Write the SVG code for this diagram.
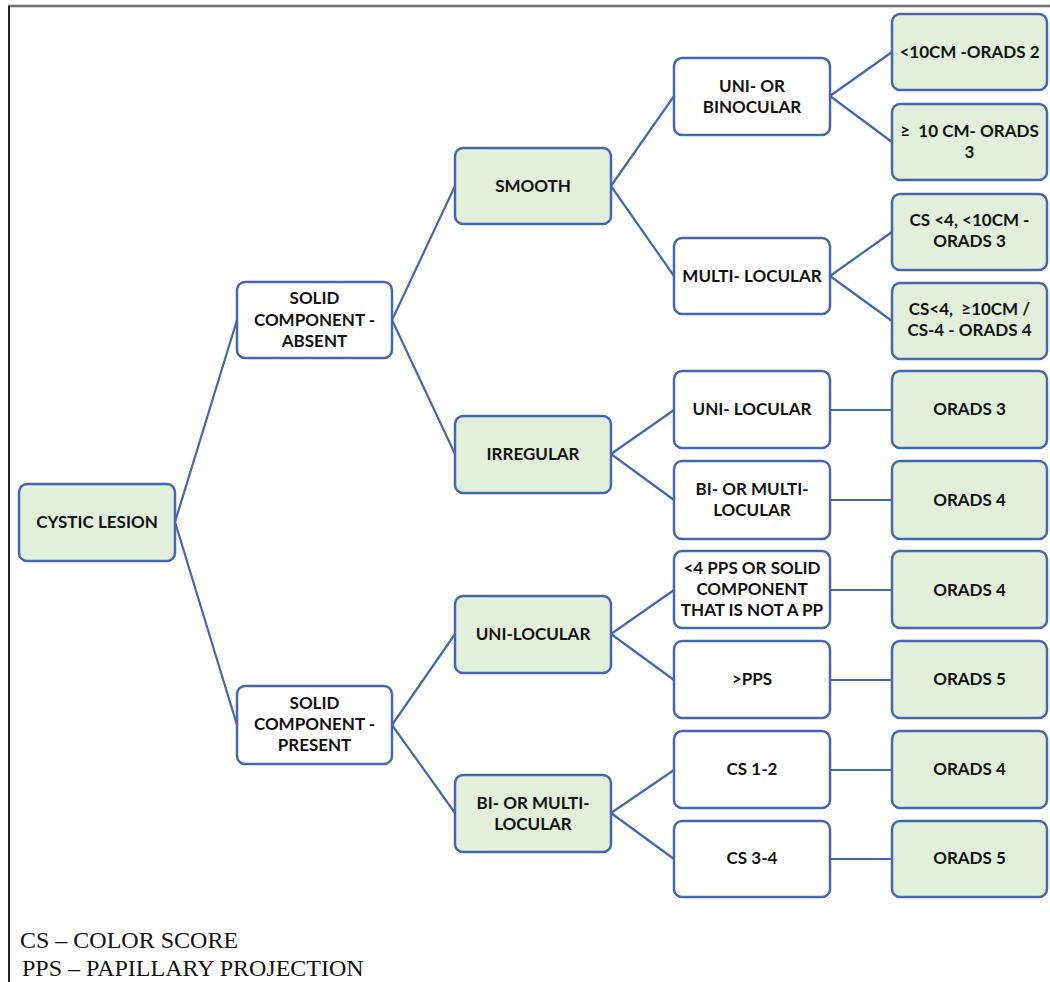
<svg xmlns="http://www.w3.org/2000/svg" width="1050" height="982" viewBox="0 0 1050 982">
<style>
.b{stroke:#4467ad;stroke-width:2.5;}
.g{fill:#e2efda;}
.w{fill:#ffffff;}
.t{font-family:Lato,"Open Sans",sans-serif;font-weight:bold;font-size:17px;fill:#111;text-anchor:middle;}
.c{stroke:#4467ad;stroke-width:2.2;fill:none;}
.l{font-family:"Liberation Serif",serif;font-size:24px;fill:#111;}
</style>
<rect width="1050" height="982" fill="#fff"/>
<line x1="8" y1="6" x2="1050" y2="6" stroke="#6d6d6d" stroke-width="2.5"/>
<line x1="9" y1="6" x2="9" y2="982" stroke="#222" stroke-width="2"/>
<g id="connectors">
<path class="c" d="M175 522L237 320M175 522L237 725"/>
<path class="c" d="M392 320L455 186M392 320L455 454M392 725L455 634M392 725L455 813"/>
<path class="c" d="M611 186L674 96M611 186L674 276M611 454L674 410M611 454L674 500M611 634L674 590M611 634L674 680M611 813L674 770M611 813L674 859"/>
<path class="c" d="M830 96L892 52M830 96L892 142M830 276L892 232M830 276L892 321"/>
<path class="c" d="M830 410H892M830 500H892M830 590H892M830 680H892M830 770H892M830 859H892"/>
</g>
<g id="n-cystic"><rect class="b g" x="19" y="484" width="156" height="77" rx="8"/><text class="t" x="97" y="528">CYSTIC LESION</text></g>
<g id="n-absent"><rect class="b w" x="237" y="282" width="155" height="76" rx="8"/><text class="t" x="314.5" y="304">SOLID</text><text class="t" x="314.5" y="326">COMPONENT -</text><text class="t" x="314.5" y="347">ABSENT</text></g>
<g id="n-present"><rect class="b w" x="237" y="686" width="155" height="78" rx="8"/><text class="t" x="314.5" y="709">SOLID</text><text class="t" x="314.5" y="730">COMPONENT -</text><text class="t" x="314.5" y="751">PRESENT</text></g>
<g id="n-smooth"><rect class="b g" x="455" y="148" width="156" height="76" rx="8"/><text class="t" x="533" y="192">SMOOTH</text></g>
<g id="n-irregular"><rect class="b g" x="455" y="416" width="156" height="77" rx="8"/><text class="t" x="533" y="460">IRREGULAR</text></g>
<g id="n-unilocular"><rect class="b g" x="455" y="596" width="156" height="77" rx="8"/><text class="t" x="533" y="640">UNI-LOCULAR</text></g>
<g id="n-bimulti"><rect class="b g" x="455" y="775" width="156" height="77" rx="8"/><text class="t" x="533" y="809">BI- OR MULTI-</text><text class="t" x="533" y="830">LOCULAR</text></g>
<g id="n-unibino"><rect class="b w" x="674" y="58" width="156" height="77" rx="8"/><text class="t" x="752" y="92">UNI- OR</text><text class="t" x="752" y="113">BINOCULAR</text></g>
<g id="n-multi"><rect class="b w" x="674" y="238" width="156" height="76" rx="8"/><text class="t" x="752" y="282">MULTI- LOCULAR</text></g>
<g id="n-uni2"><rect class="b w" x="674" y="371" width="156" height="77" rx="8"/><text class="t" x="752" y="415">UNI- LOCULAR</text></g>
<g id="n-bimulti2"><rect class="b w" x="674" y="461" width="156" height="78" rx="8"/><text class="t" x="752" y="495">BI- OR MULTI-</text><text class="t" x="752" y="516">LOCULAR</text></g>
<g id="n-pps4"><rect class="b w" x="674" y="551" width="156" height="77" rx="8"/><text class="t" x="752" y="574">&lt;4 PPS OR SOLID</text><text class="t" x="752" y="595">COMPONENT</text><text class="t" x="752" y="616">THAT IS NOT A PP</text></g>
<g id="n-pps"><rect class="b w" x="674" y="641" width="156" height="77" rx="8"/><text class="t" x="752" y="685">&gt;PPS</text></g>
<g id="n-cs12"><rect class="b w" x="674" y="731" width="156" height="77" rx="8"/><text class="t" x="752" y="775">CS 1-2</text></g>
<g id="n-cs34"><rect class="b w" x="674" y="821" width="156" height="76" rx="8"/><text class="t" x="752" y="864">CS 3-4</text></g>
<g id="r1"><rect class="b g" x="892" y="14" width="155" height="76" rx="8"/><text class="t" x="969.5" y="58">&lt;10CM -ORADS 2</text></g>
<g id="r2"><rect class="b g" x="892" y="104" width="155" height="76" rx="8"/><text class="t" x="969.5" y="137">≥&#160; 10 CM- ORADS</text><text class="t" x="969.5" y="158">3</text></g>
<g id="r3"><rect class="b g" x="892" y="194" width="155" height="76" rx="8"/><text class="t" x="969.5" y="226">CS &lt;4, &lt;10CM -</text><text class="t" x="969.5" y="247">ORADS 3</text></g>
<g id="r4"><rect class="b g" x="892" y="283" width="155" height="76" rx="8"/><text class="t" x="969.5" y="315">CS&lt;4, &#160;≥10CM /</text><text class="t" x="969.5" y="336">CS-4 - ORADS 4</text></g>
<g id="r5"><rect class="b g" x="892" y="371" width="155" height="77" rx="8"/><text class="t" x="969.5" y="415">ORADS 3</text></g>
<g id="r6"><rect class="b g" x="892" y="461" width="155" height="78" rx="8"/><text class="t" x="969.5" y="506">ORADS 4</text></g>
<g id="r7"><rect class="b g" x="892" y="551" width="155" height="77" rx="8"/><text class="t" x="969.5" y="596">ORADS 4</text></g>
<g id="r8"><rect class="b g" x="892" y="641" width="155" height="77" rx="8"/><text class="t" x="969.5" y="685">ORADS 5</text></g>
<g id="r9"><rect class="b g" x="892" y="731" width="155" height="77" rx="8"/><text class="t" x="969.5" y="775">ORADS 4</text></g>
<g id="r10"><rect class="b g" x="892" y="821" width="155" height="76" rx="8"/><text class="t" x="969.5" y="864">ORADS 5</text></g>
<g id="legend">
<text class="l" x="20" y="948">CS – COLOR SCORE</text>
<text class="l" x="22" y="976">PPS – PAPILLARY PROJECTION</text>
</g>
</svg>
